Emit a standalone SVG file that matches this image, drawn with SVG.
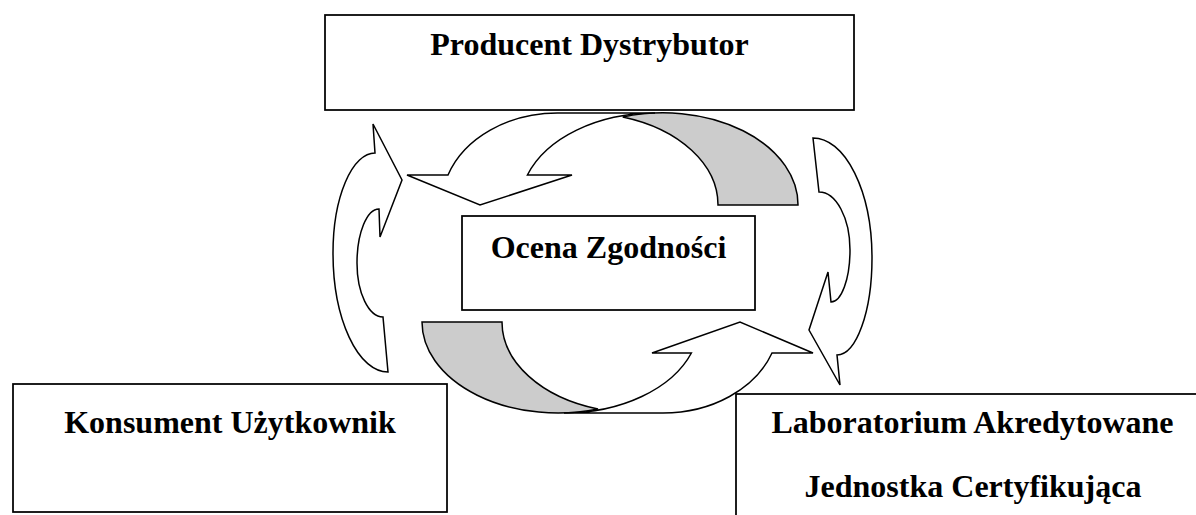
<svg xmlns="http://www.w3.org/2000/svg" width="1196" height="515" viewBox="0 0 1196 515">
  <style>
    .box { fill: #ffffff; stroke: #000000; stroke-width: 1.75; }
    .label { font-family: "Liberation Serif", "Times New Roman", serif; font-weight: bold; font-size: 32px; fill: #000000; text-anchor: middle; }
    .arrow { fill: #ffffff; stroke: #000000; stroke-width: 1.5; stroke-linejoin: miter; }
    .arrow-back { fill: #cccccc; stroke: #000000; stroke-width: 1.5; }
  </style>

  <rect width="1196" height="515" fill="#ffffff"/>

  <!-- Curved block arrows circulating round the central box -->
  <g id="connectors">
    <!-- top: arches from the right foot over to a head pointing down on the left -->
    <g id="arrow-top">
      <path class="arrow-back" d="M622.75,117 A135,92 0 0 1 718,205 L798,205 A135,92 0 0 0 622.75,117 Z"/>
      <path class="arrow" d="M448,175 A116,92 0 0 1 557.5,113 L655,113 A135,92 0 0 0 527.4,175 L572,175 L480,205 L407,175 Z"/>
    </g>
    <!-- bottom: arches from the left foot under to a head pointing up on the right -->
    <g id="arrow-bottom">
      <path class="arrow-back" d="M422,322 L502,322 A136,91 0 0 0 598,409 A136,91 0 0 1 422,322 Z"/>
      <path class="arrow" d="M652,353 L691.4,353 A135.5,91 0 0 1 564,413 L663,413 A116,91 0 0 0 772,353 L813,353 L740,322 Z"/>
    </g>
    <!-- left: bulges left, head at the top pointing right -->
    <path id="arrow-left" class="arrow" d="M388,372 A55,119 0 0 1 333,253 A42,100 0 0 1 375,153 L373,124 L402,180 L380,237 L379,209 A22,54 0 0 0 357,263 A26,54 0 0 0 383,317 Z"/>
    <!-- right: bulges right, head at the bottom pointing left -->
    <path id="arrow-right" class="arrow" d="M813,138 A59,120 0 0 1 872,258 A35,97 0 0 1 837,355 L840,385 L809,330 L828,272 L831,302 A19,52 0 0 0 850,250 A31,58 0 0 0 819,192 Z"/>
  </g>

  <g id="node-producent">
    <rect class="box" x="325" y="15" width="529" height="95"/>
    <text class="label" x="589.5" y="55">Producent Dystrybutor</text>
  </g>

  <g id="node-ocena">
    <rect class="box" x="462" y="216" width="293" height="94"/>
    <text class="label" x="608.5" y="258">Ocena Zgodności</text>
  </g>

  <g id="node-konsument">
    <rect class="box" x="13" y="384" width="434" height="128"/>
    <text class="label" x="230" y="433">Konsument Użytkownik</text>
  </g>

  <g id="node-laboratorium">
    <rect class="box" x="736" y="394" width="480" height="140"/>
    <text class="label" x="972.5" y="433">Laboratorium Akredytowane</text>
    <text class="label" x="973" y="497">Jednostka Certyfikująca</text>
  </g>
</svg>
